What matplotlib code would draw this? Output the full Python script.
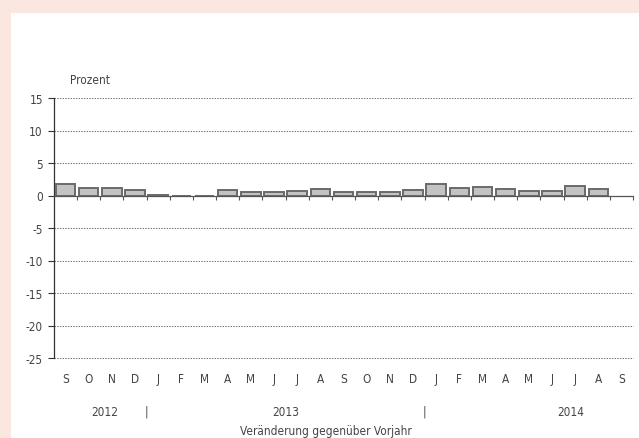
"""
Monthly change versus previous year (percent), Sep 2012 - Sep 2014,
drawn as a bar chart on a pink framed panel.
"""

import matplotlib
matplotlib.use('Agg')
import matplotlib.pyplot as plt
from matplotlib.patches import Rectangle
from matplotlib.transforms import blended_transform_factory

# Data
months = ['S', 'O', 'N', 'D', 'J', 'F', 'M', 'A', 'M', 'J', 'J', 'A',
          'S', 'O', 'N', 'D', 'J', 'F', 'M', 'A', 'M', 'J', 'J', 'A', 'S']
values = [1.7, 1.2, 1.2, 0.9, 0.1, -0.1, -0.1, 0.8, 0.6, 0.5, 0.7, 1.0,
          0.6, 0.5, 0.6, 0.8, 1.7, 1.2, 1.3, 1.0, 0.7, 0.7, 1.4, 1.0]
years = ['2012', '2013', '2014']
year_pos = [1.7, 9.5, 21.8]      # x position (in categories) of year labels
year_sep = [3.5, 15.5]           # separators between the years
y_ticks = [15, 10, 5, 0, -5, -10, -15, -20, -25]

TXT = '#444444'
FS = 8.5


def main():
    plt.rcParams['font.family'] = ['DejaVu Sans']
    plt.rcParams['font.stretch'] = 'condensed'
    fig = plt.figure(figsize=(6.39, 4.39), dpi=100)
    fig.patch.set_facecolor('#fae8e0')
    # white panel inside the pink frame
    fig.patches.append(Rectangle((11 / 639, 0), 1, 1 - 14 / 439,
                                 transform=fig.transFigure,
                                 facecolor='white', edgecolor='none',
                                 zorder=-10))

    ax = fig.add_axes([54 / 639, 80 / 439, 579 / 639, 260 / 439])
    ax.set_facecolor('none')
    ax.set_zorder(1)

    x = list(range(len(values)))
    ax.bar(x, values, width=0.84, color='#c3c3c3', edgecolor='#6a6a6a',
           linewidth=1.4, zorder=3)

    ax.set_xlim(-0.5, len(months) - 0.5)
    ax.set_ylim(-25, 15)
    ax.set_yticks(y_ticks)
    ax.set_yticklabels([str(t) for t in y_ticks])
    ax.tick_params(axis='y', length=4, width=0.8, color='#333333',
                   labelsize=FS, labelcolor=TXT, pad=4)

    # dashed grid lines
    for t in y_ticks:
        if t != 0:
            ax.axhline(t, color='#666666', linewidth=0.6,
                       linestyle=(0, (1.8, 1.4)), zorder=1, clip_on=False)

    for side in ['top', 'right']:
        ax.spines[side].set_visible(False)
    ax.spines['left'].set_color('#333333')
    ax.spines['left'].set_linewidth(0.9)
    ax.spines['bottom'].set_position(('data', 0))
    ax.spines['bottom'].set_color('#555555')
    ax.spines['bottom'].set_linewidth(0.9)
    ax.spines['bottom'].set_zorder(4)

    # tick marks at month boundaries on the zero line
    ax.set_xticks([i + 0.5 for i in range(len(months))])
    ax.set_xticklabels([])
    ax.tick_params(axis='x', length=3, width=0.8, color='#555555')

    trans = blended_transform_factory(ax.transData, ax.transAxes)
    for i, m in enumerate(months):
        ax.text(i, -0.08, m, transform=trans, ha='center', va='center',
                fontsize=FS, color=TXT)
    for pos, yr in zip(year_pos, years):
        ax.text(pos, -0.205, yr, transform=trans, ha='center',
                va='center', fontsize=FS, color=TXT)
    for pos in year_sep:
        ax.text(pos, -0.205, '|', transform=trans, ha='center',
                va='center', fontsize=FS, color=TXT)

    fig.text(326 / 639, 1 - 432 / 439, 'Veränderung gegenüber Vorjahr',
             ha='center', va='center', fontsize=FS, color=TXT)
    fig.text(90 / 639, 1 - 80 / 439, 'Prozent', ha='center', va='center',
             fontsize=FS, color=TXT)

    fig.savefig('out.png', dpi=100, facecolor=fig.get_facecolor())


if __name__ == "__main__":
    main()
